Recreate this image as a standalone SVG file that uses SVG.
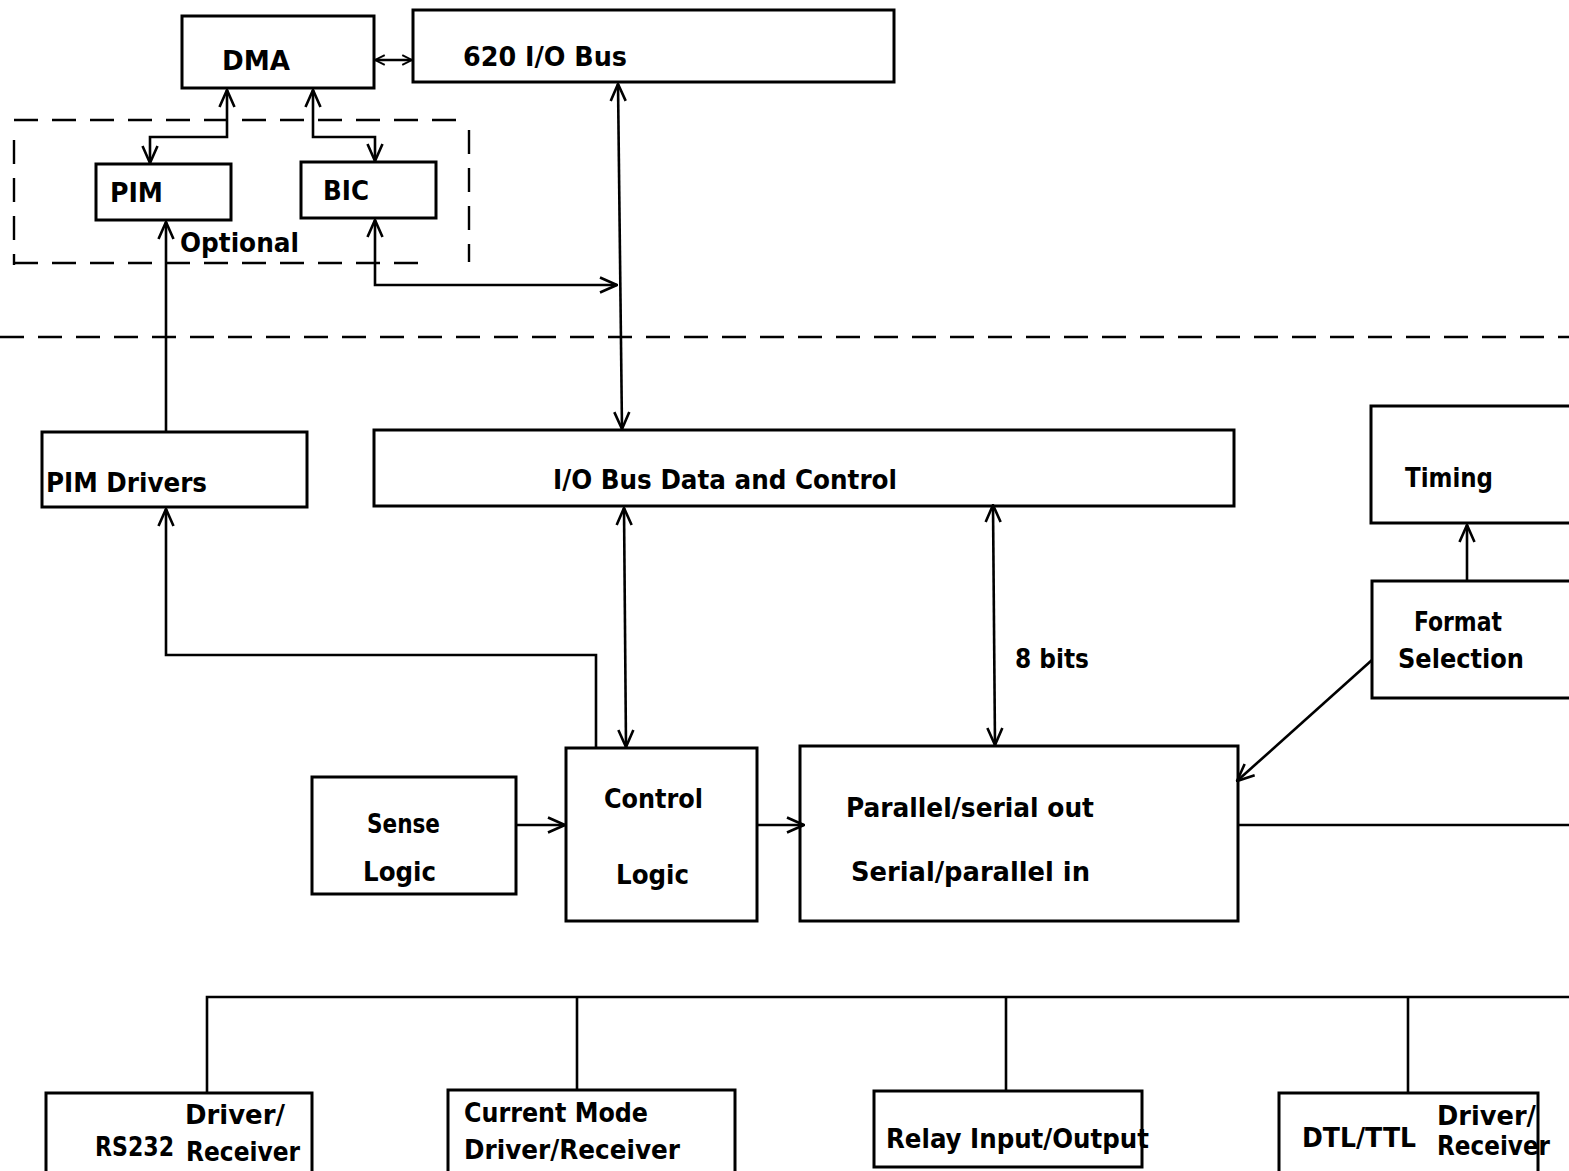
<svg xmlns="http://www.w3.org/2000/svg" width="1569" height="1171" viewBox="0 0 1569 1171">
<defs>
<style>
.box{fill:none;stroke:#000;stroke-width:3}
.t{font-family:'Liberation Sans Narrow','DejaVu Sans Condensed','Liberation Sans',sans-serif;font-size:27px;font-weight:bold;fill:#000}
.c{fill:none;stroke:#000;stroke-width:2.6}
.d{fill:none;stroke:#000;stroke-width:2.4;stroke-dasharray:24 14}
</style>
<marker id="ah" viewBox="0 0 20 20" markerWidth="20" markerHeight="20" refX="19" refY="10" orient="auto-start-reverse" markerUnits="userSpaceOnUse">
<path d="M2,2.5 L19,10 L2,17.5" fill="none" stroke="#000" stroke-width="2.6"/>
</marker>
<marker id="ahs" viewBox="0 0 16 16" markerWidth="12" markerHeight="12" refX="15" refY="8" orient="auto-start-reverse" markerUnits="userSpaceOnUse">
<path d="M2,1.5 L15,8 L2,14.5" fill="none" stroke="#000" stroke-width="2.6"/>
</marker>
</defs>
<rect width="1569" height="1171" fill="#fff"/>

<g id="optional-region">
<line class="d" x1="14" y1="120" x2="469" y2="120"/>
<line class="d" x1="14" y1="140" x2="14" y2="265"/>
<line class="d" x1="14" y1="263" x2="425" y2="263"/>
<line class="d" x1="469" y1="130" x2="469" y2="262"/>
<text class="t" x="180" y="252" textLength="119" lengthAdjust="spacingAndGlyphs">Optional</text>
</g>
<g id="divider">
<line class="d" x1="0" y1="337" x2="1569" y2="337" stroke-dasharray="26 16"/>
</g>

<g id="dma"><rect class="box" x="182" y="16" width="192" height="72"/><text class="t" x="222" y="70" textLength="68" lengthAdjust="spacingAndGlyphs">DMA</text></g>
<g id="io-bus-620"><rect class="box" x="413" y="10" width="481" height="72"/><text class="t" x="463" y="66" textLength="164" lengthAdjust="spacingAndGlyphs">620 I/O Bus</text></g>
<g id="pim"><rect class="box" x="96" y="164" width="135" height="56"/><text class="t" x="110" y="202" textLength="53" lengthAdjust="spacingAndGlyphs">PIM</text></g>
<g id="bic"><rect class="box" x="301" y="162" width="135" height="56"/><text class="t" x="323" y="200" textLength="46" lengthAdjust="spacingAndGlyphs">BIC</text></g>
<g id="pim-drivers"><rect class="box" x="42" y="432" width="265" height="75"/><text class="t" x="46" y="492" textLength="161" lengthAdjust="spacingAndGlyphs">PIM Drivers</text></g>
<g id="io-bus-data"><rect class="box" x="374" y="430" width="860" height="76"/><text class="t" x="553" y="489" textLength="344" lengthAdjust="spacingAndGlyphs">I/O Bus Data and Control</text></g>
<g id="timing"><rect class="box" x="1371" y="406" width="210" height="117"/><text class="t" x="1405" y="487" textLength="88" lengthAdjust="spacingAndGlyphs">Timing</text></g>
<g id="format-selection"><rect class="box" x="1372" y="581" width="210" height="117"/><text class="t" x="1414" y="631" textLength="88" lengthAdjust="spacingAndGlyphs">Format</text><text class="t" x="1398" y="668" textLength="126" lengthAdjust="spacingAndGlyphs">Selection</text></g>
<g id="sense-logic"><rect class="box" x="312" y="777" width="204" height="117"/><text class="t" x="367" y="833" textLength="73" lengthAdjust="spacingAndGlyphs">Sense</text><text class="t" x="363" y="881" textLength="73" lengthAdjust="spacingAndGlyphs">Logic</text></g>
<g id="control-logic"><rect class="box" x="566" y="748" width="191" height="173"/><text class="t" x="604" y="808" textLength="99" lengthAdjust="spacingAndGlyphs">Control</text><text class="t" x="616" y="884" textLength="73" lengthAdjust="spacingAndGlyphs">Logic</text></g>
<g id="parallel-serial"><rect class="box" x="800" y="746" width="438" height="175"/><text class="t" x="846" y="817" textLength="248" lengthAdjust="spacingAndGlyphs">Parallel/serial out</text><text class="t" x="851" y="881" textLength="239" lengthAdjust="spacingAndGlyphs">Serial/parallel in</text></g>
<g id="rs232"><rect class="box" x="46" y="1093" width="266" height="85"/><text class="t" x="185" y="1124" textLength="100" lengthAdjust="spacingAndGlyphs">Driver/</text><text class="t" x="95" y="1156" textLength="79" lengthAdjust="spacingAndGlyphs">RS232</text><text class="t" x="186" y="1161" textLength="114" lengthAdjust="spacingAndGlyphs">Receiver</text></g>
<g id="current-mode"><rect class="box" x="448" y="1090" width="287" height="88"/><text class="t" x="464" y="1122" textLength="184" lengthAdjust="spacingAndGlyphs">Current Mode</text><text class="t" x="464" y="1159" textLength="216" lengthAdjust="spacingAndGlyphs">Driver/Receiver</text></g>
<g id="relay"><rect class="box" x="874" y="1091" width="268" height="76"/><text class="t" x="886" y="1148" textLength="263" lengthAdjust="spacingAndGlyphs">Relay Input/Output</text></g>
<g id="dtl-ttl"><rect class="box" x="1279" y="1093" width="259" height="85"/><text class="t" x="1302" y="1147" textLength="114" lengthAdjust="spacingAndGlyphs">DTL/TTL</text><text class="t" x="1437" y="1125" font-size="23" textLength="99" lengthAdjust="spacingAndGlyphs">Driver/</text><text class="t" x="1437" y="1155" font-size="23" textLength="113" lengthAdjust="spacingAndGlyphs">Receiver</text></g>
<g id="label-8bits"><text class="t" x="1015" y="668" textLength="74" lengthAdjust="spacingAndGlyphs">8 bits</text></g>

<g id="connectors">
<path class="c" d="M375,60 L412,60" marker-start="url(#ahs)" marker-end="url(#ahs)"/>
<path class="c" d="M227,90 L227,137 L150,137 L150,163" marker-start="url(#ah)" marker-end="url(#ah)"/>
<path class="c" d="M313,90 L313,137 L375,137 L375,161" marker-start="url(#ah)" marker-end="url(#ah)"/>
<path class="c" d="M166,432 L166,222" marker-end="url(#ah)"/>
<path class="c" d="M375,220 L375,285 L617,285" marker-start="url(#ah)" marker-end="url(#ah)"/>
<path class="c" d="M618,84 L622,429" marker-start="url(#ah)" marker-end="url(#ah)"/>
<path class="c" d="M624,508 L626,747" stroke-width="3.8" marker-start="url(#ah)" marker-end="url(#ah)"/>
<path class="c" d="M596,748 L596,655 L166,655 L166,509" marker-end="url(#ah)"/>
<path class="c" d="M993,505 L995,745" marker-start="url(#ah)" marker-end="url(#ah)"/>
<path class="c" d="M1467,581 L1467,525" marker-end="url(#ah)"/>
<path class="c" d="M1372,660 L1237,781" marker-end="url(#ah)"/>
<path class="c" d="M517,825 L565,825" marker-end="url(#ah)"/>
<path class="c" d="M758,825 L804,825" marker-end="url(#ah)"/>
<path class="c" d="M1239,825 L1569,825"/>
<path class="c" d="M207,1092 L207,997 L1569,997"/>
<path class="c" d="M577,997 L577,1090"/>
<path class="c" d="M1006,997 L1006,1091" stroke-width="2"/>
<path class="c" d="M1408,997 L1408,1093"/>
</g>
</svg>
